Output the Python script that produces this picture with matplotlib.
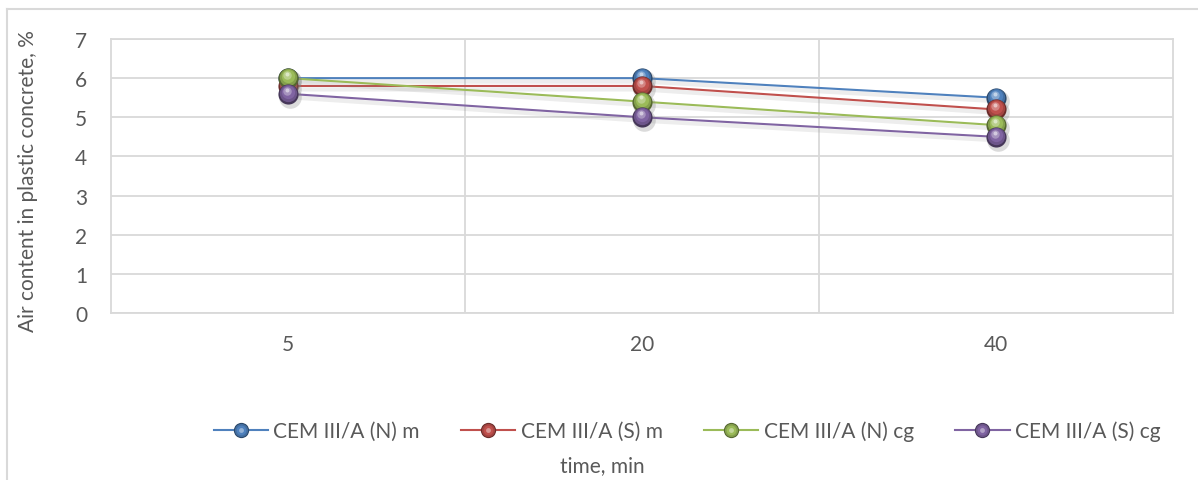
import matplotlib
matplotlib.use("Agg")
import matplotlib.pyplot as plt
import matplotlib.patheffects as pe
from matplotlib.transforms import offset_copy
from matplotlib.lines import Line2D
from matplotlib.legend_handler import HandlerTuple
import matplotlib.colors as mcolors
import numpy as np

# Data
categories = ["5", "20", "40"]
series_names = ["CEM III/A (N) m", "CEM III/A (S) m", "CEM III/A (N) cg", "CEM III/A (S) cg"]
n_m = [6.0, 6.0, 5.5]
s_m = [5.8, 5.8, 5.2]
n_cg = [6.0, 5.4, 4.8]
s_cg = [5.6, 5.0, 4.5]
series_values = [n_m, s_m, n_cg, s_cg]
colors = ["#4F81BD", "#C0504D", "#9BBB59", "#8064A2"]
y_ticks = [0, 1, 2, 3, 4, 5, 6, 7]

TEXT = "#595959"
GRID = "#D9D9D9"
FONT = ["Lato", "DejaVu Sans"]
plt.rcParams["font.family"] = FONT

W, H, DPI = 1198, 481, 100
fig = plt.figure(figsize=(W / DPI, H / DPI), dpi=DPI)
ax = fig.add_axes([111 / W, 1 - 314 / H, (1173 - 111) / W, (314 - 40) / H])

x = np.arange(len(categories))


def shade(c, f):
    r, g, b = mcolors.to_rgb(c)
    return (r * f, g * f, b * f)


def tint(c, f):
    r, g, b = mcolors.to_rgb(c)
    return (r + (1 - r) * f, g + (1 - g) * f, b + (1 - b) * f)


def sphere_layers(axis, xs, ys, color, size, z):
    """Draw glossy ball markers by stacking offset circles."""
    s = size
    layers = [
        (1.5, -3.0, s * 1.12, "#7f7f7f", 0.28),
        (0.0, 0.0, s, shade(color, 0.55), 1.0),
        (-0.3, 1.0, s * 0.86, shade(color, 0.85), 1.0),
        (-0.5, 2.0, s * 0.66, color, 1.0),
        (-0.8, 3.0, s * 0.42, tint(color, 0.30), 1.0),
        (-1.0, 4.2, s * 0.20, tint(color, 0.70), 0.9),
    ]
    for dx, dy, ms, c, a in layers:
        tr = offset_copy(axis.transData, fig=fig, x=dx, y=dy, units="dots")
        axis.plot(xs, ys, linestyle="none", marker="o", ms=ms, mfc=c, mec="none",
                  alpha=a, transform=tr, zorder=z)


for i, (name, vals, col) in enumerate(zip(series_names, series_values, colors)):
    ax.plot(x, vals, color=col, lw=1.5, zorder=3 + i * 0.1,
            path_effects=[pe.SimpleLineShadow(offset=(1, -2.5), shadow_color="#808080",
                                              alpha=0.14, linewidth=3.0), pe.Normal()])

for i, (vals, col) in enumerate(zip(series_values, colors)):
    sphere_layers(ax, x, vals, col, 14.5, 5 + i)

ax.set_xlim(-0.5, len(categories) - 0.5)
ax.set_ylim(0, 7)
ax.set_yticks(y_ticks)
ax.set_yticklabels([str(v) for v in y_ticks])
ax.set_xticks(x)
ax.set_xticklabels(categories)
ax.set_xticks(np.arange(0.5, len(categories) - 0.5, 1), minor=True)
ax.grid(True, axis="y", color=GRID, lw=1.3)
ax.grid(True, axis="x", which="minor", color=GRID, lw=1.3)
ax.tick_params(axis="both", which="both", length=0, colors=TEXT, labelsize=15)
ax.tick_params(axis="y", pad=17)
ax.tick_params(axis="x", pad=15)
for sp in ax.spines.values():
    sp.set_color(GRID)
    sp.set_linewidth(1.3)
ax.set_axisbelow(True)

# Axis titles
fig.text(28 / W, 1 - 181.5 / H, "Air content in plastic concrete, %", rotation=90,
         ha="center", va="center", color=TEXT, fontsize=15)
fig.text(602 / W, 1 - 466 / H, "time, min", ha="center", va="center", color=TEXT, fontsize=15)

# Legend with glossy marker handles
handles = []
for col in colors:
    h = (
        Line2D([], [], color=col, lw=1.5),
        Line2D([], [], ls="none", marker="o", ms=11, mfc=shade(col, 0.55), mec="none"),
        Line2D([], [], ls="none", marker="o", ms=9.5, mfc=shade(col, 0.85), mec="none"),
        Line2D([], [], ls="none", marker="o", ms=7, mfc=col, mec="none"),
        Line2D([], [], ls="none", marker="o", ms=3.5, mfc=tint(col, 0.40), mec="none"),
    )
    handles.append(h)
fig.legend(handles, series_names, loc="center", bbox_to_anchor=(687 / W, 1 - 432 / H),
           ncol=4, frameon=False, fontsize=15, labelcolor=TEXT, numpoints=1,
           handler_map={tuple: HandlerTuple(ndivide=1, pad=0)},
           handlelength=2.6, handletextpad=0.25, columnspacing=2.0, borderaxespad=0)

# Outer chart frame (left and top edges)
fig.add_artist(Line2D([7 / W, 7 / W], [0, 1 - 10 / H], transform=fig.transFigure,
                      color=GRID, lw=1.5))
fig.add_artist(Line2D([7 / W, 1], [1 - 10 / H, 1 - 10 / H], transform=fig.transFigure,
                      color=GRID, lw=1.5))

fig.savefig("out.png", dpi=DPI)
